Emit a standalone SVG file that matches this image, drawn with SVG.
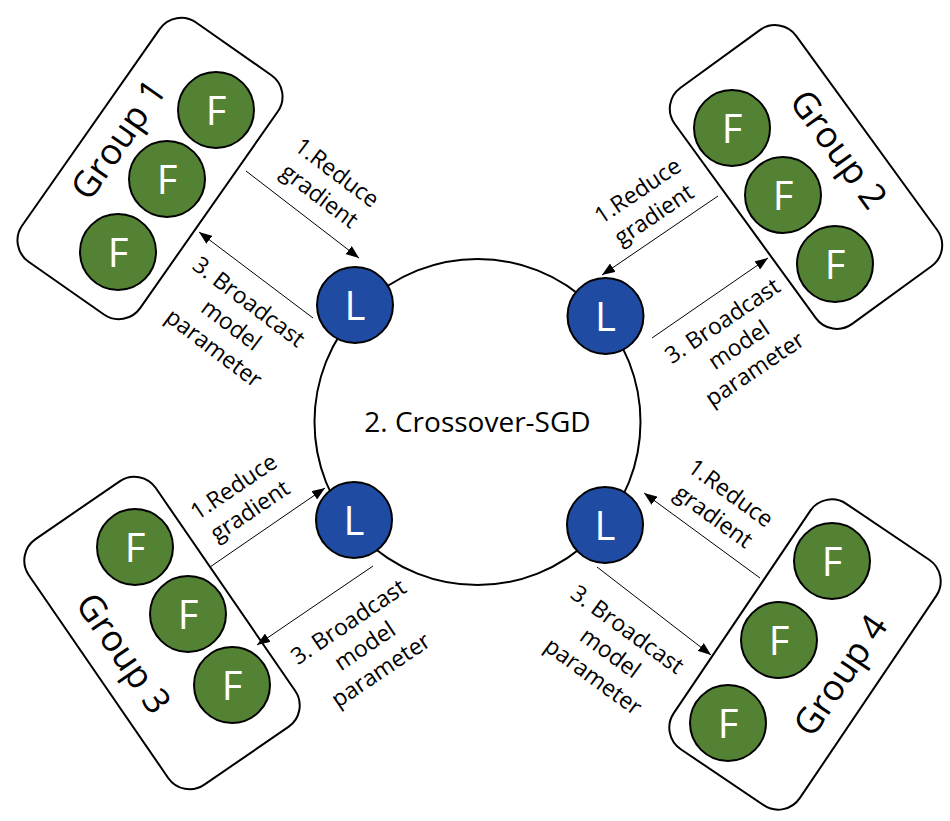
<svg xmlns="http://www.w3.org/2000/svg" width="950" height="821" viewBox="0 0 950 821">
<defs>
<marker id="ah" markerUnits="userSpaceOnUse" markerWidth="13" markerHeight="10" refX="13" refY="5" orient="auto">
<path d="M0,0 L13,5 L0,10 z" fill="#000"/>
</marker>
<style>
.box{fill:#fff;stroke:#000;stroke-width:2}
.f{fill:#548235;stroke:#000;stroke-width:2}
.l{fill:#1F4BA3;stroke:#000;stroke-width:2}
.nt{font-family:"Open Sans","Noto Sans",sans-serif;font-size:40px;fill:#fff;text-anchor:middle}
.gt{font-family:"Open Sans","Noto Sans",sans-serif;font-size:36px;fill:#000;text-anchor:middle}
.lb{font-family:"Open Sans","Noto Sans",sans-serif;font-size:23px;fill:#000;text-anchor:middle}
.ct{font-family:"Open Sans","Noto Sans",sans-serif;font-size:28px;fill:#000;text-anchor:middle}
.cn{stroke:#000;stroke-width:1;fill:none;marker-end:url(#ah)}
</style>
</defs>
<rect width="950" height="821" fill="#fff"/>

<g id="ring">
<circle cx="477.5" cy="422" r="163" fill="#fff" stroke="#000" stroke-width="2"/>
<text class="ct" x="477.5" y="432">2. Crossover-SGD</text>
</g>

<g id="group1">
<rect class="box" x="-146" y="-72" width="292" height="144" rx="26" transform="translate(150,168.5) rotate(-55)"/>
<text class="gt" transform="translate(118,139) rotate(-55)" x="0" y="13">Group 1</text>
<circle class="f" cx="216" cy="110" r="38"/><text class="nt" x="216" y="125">F</text>
<circle class="f" cx="167" cy="179" r="38"/><text class="nt" x="167" y="194">F</text>
<circle class="f" cx="118" cy="252" r="38"/><text class="nt" x="118" y="267">F</text>
</g>

<g id="group2">
<rect class="box" x="-146" y="-75" width="292" height="150" rx="26" transform="translate(806,177) rotate(54)"/>
<text class="gt" transform="translate(839,149) rotate(54)" x="0" y="13">Group 2</text>
<circle class="f" cx="732" cy="128" r="38"/><text class="nt" x="732" y="143">F</text>
<circle class="f" cx="783" cy="195" r="38"/><text class="nt" x="783" y="210">F</text>
<circle class="f" cx="835" cy="264" r="38"/><text class="nt" x="835" y="279">F</text>
</g>

<g id="group3">
<rect class="box" x="-149" y="-77" width="298" height="154" rx="26" transform="translate(162,633) rotate(55.5)"/>
<text class="gt" transform="translate(124,653) rotate(55.5)" x="0" y="13">Group 3</text>
<circle class="f" cx="135" cy="547" r="38"/><text class="nt" x="135" y="562">F</text>
<circle class="f" cx="188" cy="614" r="38"/><text class="nt" x="188" y="629">F</text>
<circle class="f" cx="232" cy="685" r="38"/><text class="nt" x="232" y="700">F</text>
</g>

<g id="group4">
<rect class="box" x="-148" y="-76" width="296" height="152" rx="26" transform="translate(805,654.5) rotate(-56)"/>
<text class="gt" transform="translate(840,675) rotate(-56)" x="0" y="13">Group 4</text>
<circle class="f" cx="832" cy="561" r="38"/><text class="nt" x="832" y="576">F</text>
<circle class="f" cx="779" cy="640" r="38"/><text class="nt" x="779" y="655">F</text>
<circle class="f" cx="728" cy="723" r="38"/><text class="nt" x="728" y="738">F</text>
</g>

<g id="leader1"><circle class="l" cx="355" cy="305" r="38"/><text class="nt" x="355" y="320">L</text></g>
<g id="leader2"><circle class="l" cx="605.5" cy="316" r="38"/><text class="nt" x="605.5" y="331">L</text></g>
<g id="leader3"><circle class="l" cx="354" cy="520" r="38"/><text class="nt" x="354" y="535">L</text></g>
<g id="leader4"><circle class="l" cx="605" cy="525" r="38"/><text class="nt" x="605" y="540">L</text></g>

<g id="connectors">
<line class="cn" x1="246" y1="171" x2="359" y2="258"/>
<line class="cn" x1="313" y1="318" x2="199" y2="232"/>
<line class="cn" x1="718" y1="196" x2="602" y2="275"/>
<line class="cn" x1="652" y1="338" x2="768" y2="258"/>
<line class="cn" x1="210" y1="567" x2="325" y2="488"/>
<line class="cn" x1="373" y1="566" x2="257" y2="645"/>
<line class="cn" x1="760" y1="578" x2="644" y2="493"/>
<line class="cn" x1="597" y1="567" x2="711" y2="655"/>
</g>

<g id="labels">
<text class="lb" transform="translate(328,184.5) rotate(37)"><tspan x="0" y="-7">1.Reduce</tspan><tspan x="0" y="22">gradient</tspan></text>
<text class="lb" transform="translate(232,324) rotate(37)"><tspan x="0" y="-20">3. Broadcast</tspan><tspan x="0" y="9">model</tspan><tspan x="0" y="38">parameter</tspan></text>
<text class="lb" transform="translate(646,203) rotate(-34)"><tspan x="0" y="-7">1.Reduce</tspan><tspan x="0" y="22">gradient</tspan></text>
<text class="lb" transform="translate(738,344) rotate(-34)"><tspan x="0" y="-20">3. Broadcast</tspan><tspan x="0" y="9">model</tspan><tspan x="0" y="38">parameter</tspan></text>
<text class="lb" transform="translate(242,499) rotate(-34)"><tspan x="0" y="-7">1.Reduce</tspan><tspan x="0" y="22">gradient</tspan></text>
<text class="lb" transform="translate(364,645) rotate(-34)"><tspan x="0" y="-20">3. Broadcast</tspan><tspan x="0" y="9">model</tspan><tspan x="0" y="38">parameter</tspan></text>
<text class="lb" transform="translate(722,505) rotate(36)"><tspan x="0" y="-7">1.Reduce</tspan><tspan x="0" y="22">gradient</tspan></text>
<text class="lb" transform="translate(611,652) rotate(36)"><tspan x="0" y="-20">3. Broadcast</tspan><tspan x="0" y="9">model</tspan><tspan x="0" y="38">parameter</tspan></text>
</g>
</svg>
